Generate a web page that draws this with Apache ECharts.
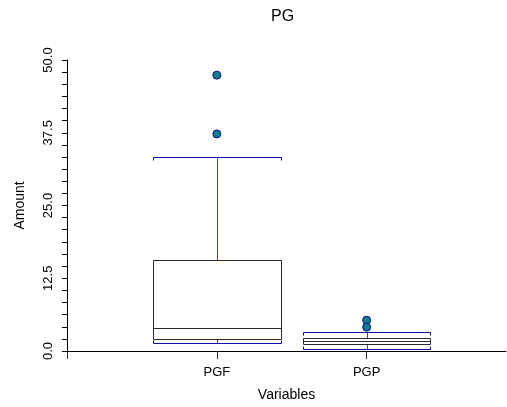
<!DOCTYPE html>
<html>
<head>
<meta charset="utf-8">
<script src="https://cdn.jsdelivr.net/npm/echarts@6/dist/echarts.min.js"></script>
<style>
html,body{margin:0;padding:0;background:#fff;}
#chart{width:507px;height:407px;}
</style>
</head>
<body>
<div id="chart"></div>
<script>
const categories = ['PGF', 'PGP'];
const lowerWhisker = [1.3, 0.4];
const q1 = [2.1, 1.2];
const median = [3.9, 1.8];
const q3 = [15.6, 2.3];
const upperWhisker = [33.3, 3.2];
const outlierCategory = ['PGF', 'PGF', 'PGP', 'PGP'];
const outlierValue = [47.4, 37.3, 5.3, 4.1];
const yTicks = [0, 12.5, 25, 37.5, 50];

const FONT = 'Liberation Sans, Arial, sans-serif';
const NAVY = '#0c0ca0';
const boxData = categories.map((c, i) => [i + 1, lowerWhisker[i], q1[i], median[i], q3[i], upperWhisker[i]]);
const outlierData = outlierCategory.map((c, i) => [categories.indexOf(c) + 1, outlierValue[i]]);

function px(v) { return Math.round(v) + 0.5; }

function renderBox(params, api) {
  const x = api.value(0);
  const half = 0.425;
  const left = api.coord([x - half, 0])[0];
  const right = api.coord([x + half, 0])[0];
  const cx = px(api.coord([x, 0])[0]);
  const yLW = px(api.coord([x, api.value(1)])[1]);
  const yQ1 = px(api.coord([x, api.value(2)])[1]);
  const yMed = px(api.coord([x, api.value(3)])[1]);
  const yQ3 = px(api.coord([x, api.value(4)])[1]);
  const yUW = px(api.coord([x, api.value(5)])[1]);
  const l = px(left), r = px(right);
  const stem = '#3a3ae0';
  const box = '#2a2a2a';
  const capTick = 3;
  return {
    type: 'group',
    children: [
      { type: 'line', shape: { x1: cx, y1: yQ3, x2: cx, y2: yUW }, style: { stroke: stem, lineWidth: 1 } },
      { type: 'line', shape: { x1: cx, y1: yQ1, x2: cx, y2: yLW }, style: { stroke: stem, lineWidth: 1 } },
      { type: 'polyline', shape: { points: [[l, yUW + capTick], [l, yUW], [r, yUW], [r, yUW + capTick]] }, style: { stroke: NAVY, fill: null, lineWidth: 1 } },
      { type: 'polyline', shape: { points: [[l, yLW - capTick], [l, yLW], [r, yLW], [r, yLW - capTick]] }, style: { stroke: NAVY, fill: null, lineWidth: 1 } },
      { type: 'rect', shape: { x: l, y: yQ3, width: r - l, height: yQ1 - yQ3 }, style: { stroke: box, fill: '#fff', lineWidth: 1 } },
      { type: 'line', shape: { x1: l, y1: yMed, x2: r, y2: yMed }, style: { stroke: box, lineWidth: 1 } }
    ]
  };
}

const chart = echarts.init(document.getElementById('chart'), null, { renderer: 'canvas' });
chart.setOption({
  backgroundColor: '#fff',
  animation: false,
  title: {
    text: 'PG', left: 266, top: 4,
    textStyle: { fontFamily: FONT, fontSize: 16, fontWeight: 'normal', color: '#000' }
  },
  grid: { left: 67, right: 1, top: 60, bottom: 51, containLabel: false },
  xAxis: {
    type: 'value', min: 0, max: 2.93,
    name: 'Variables', nameLocation: 'middle', nameGap: 37,
    nameTextStyle: { fontFamily: FONT, fontSize: 14, color: '#000' },
    splitLine: { show: false },
    axisLine: { show: true, onZero: false, lineStyle: { color: '#000', width: 1 } },
    axisTick: { show: true, customValues: [0, 1, 2], length: 8, lineStyle: { color: '#333' } },
    axisLabel: {
      customValues: [1, 2], margin: 15,
      fontFamily: FONT, fontSize: 13, color: '#000',
      formatter: v => categories[Math.round(v) - 1] || ''
    }
  },
  yAxis: {
    type: 'value', min: 0, max: 50, interval: 12.5,
    name: 'Amount', nameLocation: 'middle', nameGap: 40, nameRotate: 90,
    nameTextStyle: { fontFamily: FONT, fontSize: 14, color: '#000' },
    splitLine: { show: false },
    axisLine: { show: true, lineStyle: { color: '#000', width: 1 } },
    axisTick: { show: true, length: 5, lineStyle: { color: '#000' } },
    minorTick: { show: true, splitNumber: 6, length: 5, lineStyle: { color: '#000' } },
    minorSplitLine: { show: false },
    axisLabel: {
      rotate: 90, margin: 12,
      fontFamily: FONT, fontSize: 13, color: '#000',
      customValues: yTicks,
      formatter: v => v.toFixed(1)
    }
  },
  series: [
    {
      type: 'custom',
      renderItem: renderBox,
      data: boxData,
      encode: { x: 0, y: [1, 2, 3, 4, 5] },
      z: 2
    },
    {
      type: 'scatter',
      data: outlierData,
      symbol: 'circle', symbolSize: 8,
      itemStyle: { color: '#0a7f8a', borderColor: NAVY, borderWidth: 1, opacity: 1 },
      z: 3
    }
  ]
});
</script>
</body>
</html>
